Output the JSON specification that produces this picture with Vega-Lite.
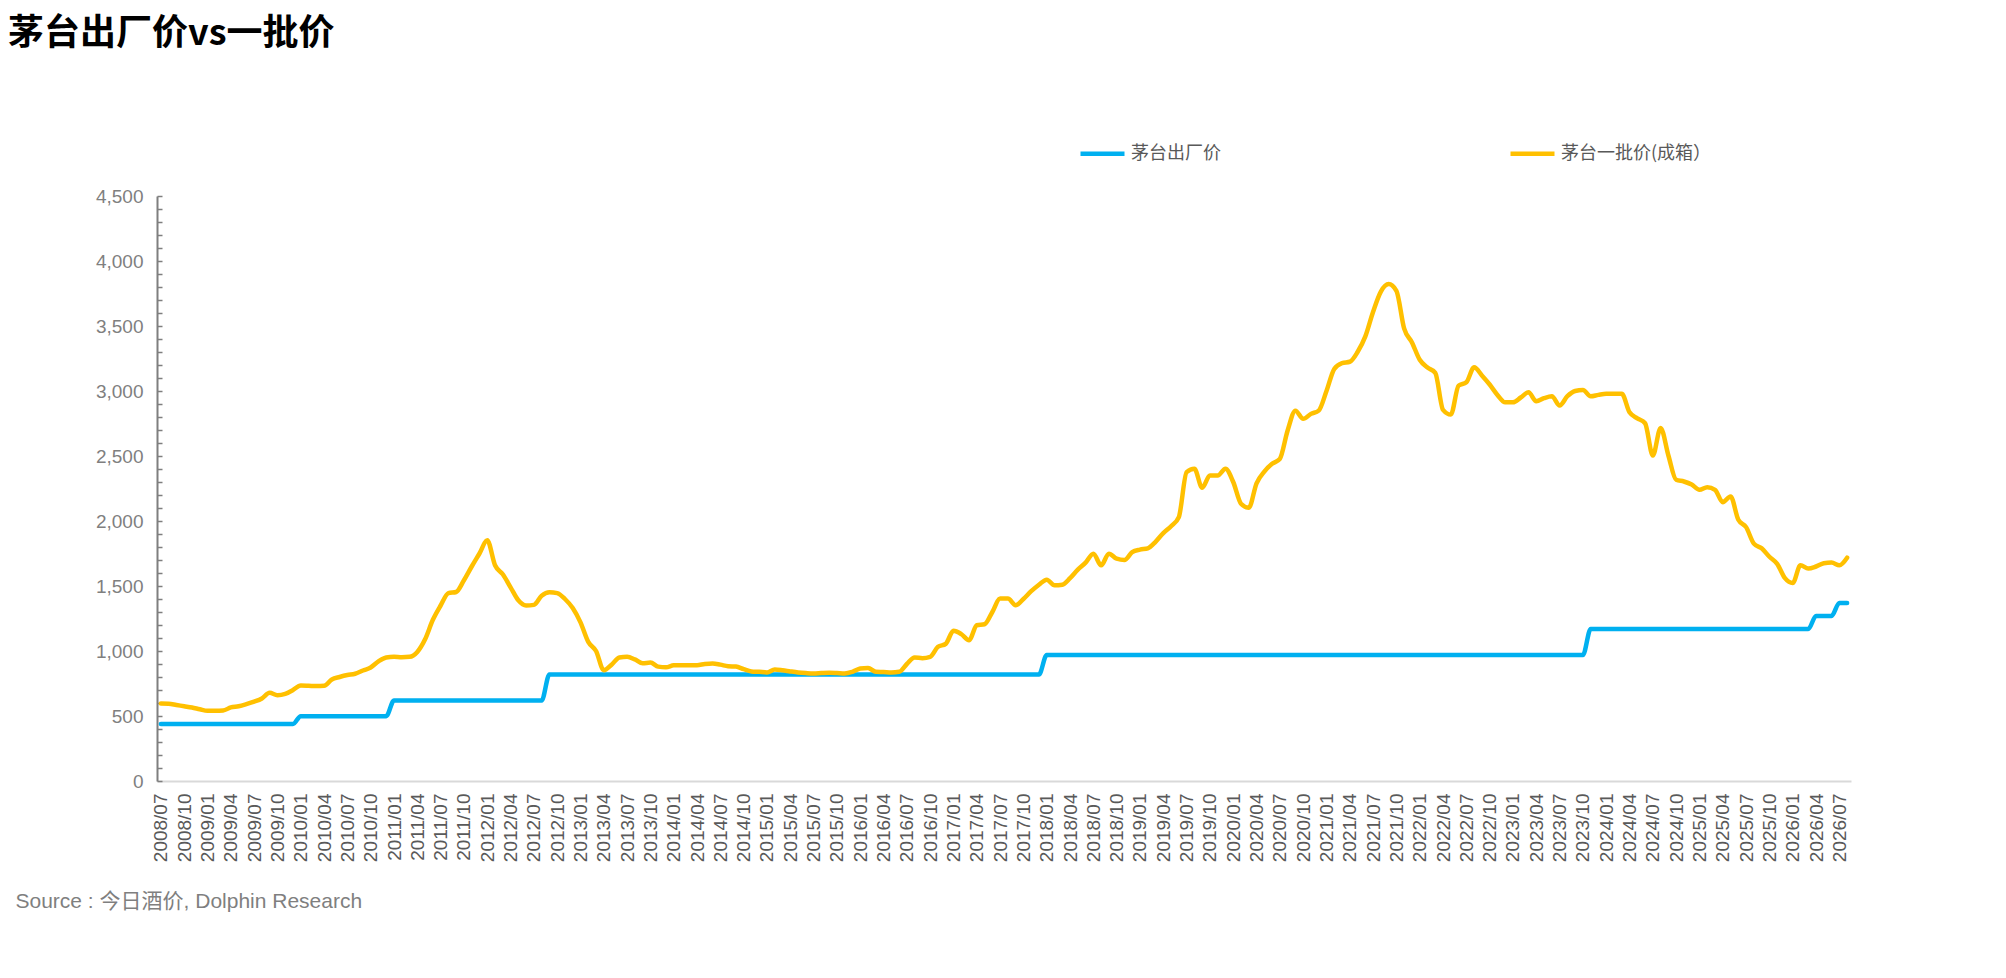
{
"$schema": "https://vega.github.io/schema/vega-lite/v6.json",
"width": 1694,
"height": 585,
"autosize": {"type": "none"},
"padding": {"left": 157, "top": 196, "right": 155, "bottom": 197},
"background": "white",
"config": {"view": {"stroke": null}, "font": "Liberation Sans, Noto Sans CJK SC"},
"title": {"text": "茅台出厂价vs一批价", "anchor": "start", "frame": "group", "dx": -149, "offset": 76, "fontSize": 36, "fontWeight": "bold", "color": "#000000", "font": "Noto Sans CJK SC"},
"data": {"values": [
{"month":"2008/07","factory":439,"wholesale":597},
{"month":"2008/08","factory":439,"wholesale":595},
{"month":"2008/09","factory":439,"wholesale":585},
{"month":"2008/10","factory":439,"wholesale":575},
{"month":"2008/11","factory":439,"wholesale":565},
{"month":"2008/12","factory":439,"wholesale":552},
{"month":"2009/01","factory":439,"wholesale":540},
{"month":"2009/02","factory":439,"wholesale":540},
{"month":"2009/03","factory":439,"wholesale":542},
{"month":"2009/04","factory":439,"wholesale":566},
{"month":"2009/05","factory":439,"wholesale":575},
{"month":"2009/06","factory":439,"wholesale":591},
{"month":"2009/07","factory":439,"wholesale":610},
{"month":"2009/08","factory":439,"wholesale":635},
{"month":"2009/09","factory":439,"wholesale":678},
{"month":"2009/10","factory":439,"wholesale":660},
{"month":"2009/11","factory":439,"wholesale":670},
{"month":"2009/12","factory":439,"wholesale":700},
{"month":"2010/01","factory":499,"wholesale":735},
{"month":"2010/02","factory":499,"wholesale":733},
{"month":"2010/03","factory":499,"wholesale":730},
{"month":"2010/04","factory":499,"wholesale":732},
{"month":"2010/05","factory":499,"wholesale":781},
{"month":"2010/06","factory":499,"wholesale":800},
{"month":"2010/07","factory":499,"wholesale":815},
{"month":"2010/08","factory":499,"wholesale":825},
{"month":"2010/09","factory":499,"wholesale":850},
{"month":"2010/10","factory":499,"wholesale":873},
{"month":"2010/11","factory":499,"wholesale":920},
{"month":"2010/12","factory":499,"wholesale":950},
{"month":"2011/01","factory":619,"wholesale":955},
{"month":"2011/02","factory":619,"wholesale":952},
{"month":"2011/03","factory":619,"wholesale":955},
{"month":"2011/04","factory":619,"wholesale":993},
{"month":"2011/05","factory":619,"wholesale":1090},
{"month":"2011/06","factory":619,"wholesale":1240},
{"month":"2011/07","factory":619,"wholesale":1350},
{"month":"2011/08","factory":619,"wholesale":1445},
{"month":"2011/09","factory":619,"wholesale":1454},
{"month":"2011/10","factory":619,"wholesale":1544},
{"month":"2011/11","factory":619,"wholesale":1650},
{"month":"2011/12","factory":619,"wholesale":1750},
{"month":"2012/01","factory":619,"wholesale":1851},
{"month":"2012/02","factory":619,"wholesale":1660},
{"month":"2012/03","factory":619,"wholesale":1590},
{"month":"2012/04","factory":619,"wholesale":1490},
{"month":"2012/05","factory":619,"wholesale":1390},
{"month":"2012/06","factory":619,"wholesale":1350},
{"month":"2012/07","factory":619,"wholesale":1355},
{"month":"2012/08","factory":619,"wholesale":1425},
{"month":"2012/09","factory":819,"wholesale":1452},
{"month":"2012/10","factory":819,"wholesale":1445},
{"month":"2012/11","factory":819,"wholesale":1400},
{"month":"2012/12","factory":819,"wholesale":1330},
{"month":"2013/01","factory":819,"wholesale":1220},
{"month":"2013/02","factory":819,"wholesale":1070},
{"month":"2013/03","factory":819,"wholesale":1000},
{"month":"2013/04","factory":819,"wholesale":852},
{"month":"2013/05","factory":819,"wholesale":895},
{"month":"2013/06","factory":819,"wholesale":950},
{"month":"2013/07","factory":819,"wholesale":955},
{"month":"2013/08","factory":819,"wholesale":935},
{"month":"2013/09","factory":819,"wholesale":905},
{"month":"2013/10","factory":819,"wholesale":911},
{"month":"2013/11","factory":819,"wholesale":880},
{"month":"2013/12","factory":819,"wholesale":875},
{"month":"2014/01","factory":819,"wholesale":890},
{"month":"2014/02","factory":819,"wholesale":891},
{"month":"2014/03","factory":819,"wholesale":891},
{"month":"2014/04","factory":819,"wholesale":891},
{"month":"2014/05","factory":819,"wholesale":900},
{"month":"2014/06","factory":819,"wholesale":904},
{"month":"2014/07","factory":819,"wholesale":895},
{"month":"2014/08","factory":819,"wholesale":883},
{"month":"2014/09","factory":819,"wholesale":880},
{"month":"2014/10","factory":819,"wholesale":860},
{"month":"2014/11","factory":819,"wholesale":843},
{"month":"2014/12","factory":819,"wholesale":840},
{"month":"2015/01","factory":819,"wholesale":835},
{"month":"2015/02","factory":819,"wholesale":858},
{"month":"2015/03","factory":819,"wholesale":852},
{"month":"2015/04","factory":819,"wholesale":843},
{"month":"2015/05","factory":819,"wholesale":835},
{"month":"2015/06","factory":819,"wholesale":830},
{"month":"2015/07","factory":819,"wholesale":827},
{"month":"2015/08","factory":819,"wholesale":830},
{"month":"2015/09","factory":819,"wholesale":832},
{"month":"2015/10","factory":819,"wholesale":830},
{"month":"2015/11","factory":819,"wholesale":827},
{"month":"2015/12","factory":819,"wholesale":840},
{"month":"2016/01","factory":819,"wholesale":865},
{"month":"2016/02","factory":819,"wholesale":870},
{"month":"2016/03","factory":819,"wholesale":840},
{"month":"2016/04","factory":819,"wholesale":838},
{"month":"2016/05","factory":819,"wholesale":835},
{"month":"2016/06","factory":819,"wholesale":840},
{"month":"2016/07","factory":819,"wholesale":900},
{"month":"2016/08","factory":819,"wholesale":950},
{"month":"2016/09","factory":819,"wholesale":945},
{"month":"2016/10","factory":819,"wholesale":955},
{"month":"2016/11","factory":819,"wholesale":1032},
{"month":"2016/12","factory":819,"wholesale":1055},
{"month":"2017/01","factory":819,"wholesale":1155},
{"month":"2017/02","factory":819,"wholesale":1130},
{"month":"2017/03","factory":819,"wholesale":1083},
{"month":"2017/04","factory":819,"wholesale":1198},
{"month":"2017/05","factory":819,"wholesale":1206},
{"month":"2017/06","factory":819,"wholesale":1300},
{"month":"2017/07","factory":819,"wholesale":1403},
{"month":"2017/08","factory":819,"wholesale":1403},
{"month":"2017/09","factory":819,"wholesale":1352},
{"month":"2017/10","factory":819,"wholesale":1400},
{"month":"2017/11","factory":819,"wholesale":1460},
{"month":"2017/12","factory":819,"wholesale":1510},
{"month":"2018/01","factory":969,"wholesale":1549},
{"month":"2018/02","factory":969,"wholesale":1505},
{"month":"2018/03","factory":969,"wholesale":1510},
{"month":"2018/04","factory":969,"wholesale":1560},
{"month":"2018/05","factory":969,"wholesale":1626},
{"month":"2018/06","factory":969,"wholesale":1680},
{"month":"2018/07","factory":969,"wholesale":1749},
{"month":"2018/08","factory":969,"wholesale":1659},
{"month":"2018/09","factory":969,"wholesale":1749},
{"month":"2018/10","factory":969,"wholesale":1710},
{"month":"2018/11","factory":969,"wholesale":1700},
{"month":"2018/12","factory":969,"wholesale":1760},
{"month":"2019/01","factory":969,"wholesale":1780},
{"month":"2019/02","factory":969,"wholesale":1790},
{"month":"2019/03","factory":969,"wholesale":1840},
{"month":"2019/04","factory":969,"wholesale":1907},
{"month":"2019/05","factory":969,"wholesale":1960},
{"month":"2019/06","factory":969,"wholesale":2030},
{"month":"2019/07","factory":969,"wholesale":2376},
{"month":"2019/08","factory":969,"wholesale":2402},
{"month":"2019/09","factory":969,"wholesale":2256},
{"month":"2019/10","factory":969,"wholesale":2350},
{"month":"2019/11","factory":969,"wholesale":2350},
{"month":"2019/12","factory":969,"wholesale":2402},
{"month":"2020/01","factory":969,"wholesale":2300},
{"month":"2020/02","factory":969,"wholesale":2133},
{"month":"2020/03","factory":969,"wholesale":2102},
{"month":"2020/04","factory":969,"wholesale":2290},
{"month":"2020/05","factory":969,"wholesale":2380},
{"month":"2020/06","factory":969,"wholesale":2440},
{"month":"2020/07","factory":969,"wholesale":2478},
{"month":"2020/08","factory":969,"wholesale":2696},
{"month":"2020/09","factory":969,"wholesale":2849},
{"month":"2020/10","factory":969,"wholesale":2786},
{"month":"2020/11","factory":969,"wholesale":2824},
{"month":"2020/12","factory":969,"wholesale":2849},
{"month":"2021/01","factory":969,"wholesale":3000},
{"month":"2021/02","factory":969,"wholesale":3170},
{"month":"2021/03","factory":969,"wholesale":3215},
{"month":"2021/04","factory":969,"wholesale":3225},
{"month":"2021/05","factory":969,"wholesale":3300},
{"month":"2021/06","factory":969,"wholesale":3420},
{"month":"2021/07","factory":969,"wholesale":3610},
{"month":"2021/08","factory":969,"wholesale":3765},
{"month":"2021/09","factory":969,"wholesale":3823},
{"month":"2021/10","factory":969,"wholesale":3771},
{"month":"2021/11","factory":969,"wholesale":3480},
{"month":"2021/12","factory":969,"wholesale":3374},
{"month":"2022/01","factory":969,"wholesale":3240},
{"month":"2022/02","factory":969,"wholesale":3180},
{"month":"2022/03","factory":969,"wholesale":3140},
{"month":"2022/04","factory":969,"wholesale":2855},
{"month":"2022/05","factory":969,"wholesale":2819},
{"month":"2022/06","factory":969,"wholesale":3041},
{"month":"2022/07","factory":969,"wholesale":3067},
{"month":"2022/08","factory":969,"wholesale":3182},
{"month":"2022/09","factory":969,"wholesale":3120},
{"month":"2022/10","factory":969,"wholesale":3050},
{"month":"2022/11","factory":969,"wholesale":2970},
{"month":"2022/12","factory":969,"wholesale":2913},
{"month":"2023/01","factory":969,"wholesale":2913},
{"month":"2023/02","factory":969,"wholesale":2950},
{"month":"2023/03","factory":969,"wholesale":2990},
{"month":"2023/04","factory":969,"wholesale":2921},
{"month":"2023/05","factory":969,"wholesale":2945},
{"month":"2023/06","factory":969,"wholesale":2959},
{"month":"2023/07","factory":969,"wholesale":2888},
{"month":"2023/08","factory":969,"wholesale":2960},
{"month":"2023/09","factory":969,"wholesale":3000},
{"month":"2023/10","factory":969,"wholesale":3008},
{"month":"2023/11","factory":1169,"wholesale":2959},
{"month":"2023/12","factory":1169,"wholesale":2970},
{"month":"2024/01","factory":1169,"wholesale":2978},
{"month":"2024/02","factory":1169,"wholesale":2978},
{"month":"2024/03","factory":1169,"wholesale":2978},
{"month":"2024/04","factory":1169,"wholesale":2836},
{"month":"2024/05","factory":1169,"wholesale":2790},
{"month":"2024/06","factory":1169,"wholesale":2752},
{"month":"2024/07","factory":1169,"wholesale":2504},
{"month":"2024/08","factory":1169,"wholesale":2716},
{"month":"2024/09","factory":1169,"wholesale":2504},
{"month":"2024/10","factory":1169,"wholesale":2317},
{"month":"2024/11","factory":1169,"wholesale":2304},
{"month":"2024/12","factory":1169,"wholesale":2280},
{"month":"2025/01","factory":1169,"wholesale":2240},
{"month":"2025/02","factory":1169,"wholesale":2260},
{"month":"2025/03","factory":1169,"wholesale":2240},
{"month":"2025/04","factory":1169,"wholesale":2145},
{"month":"2025/05","factory":1169,"wholesale":2189},
{"month":"2025/06","factory":1169,"wholesale":2010},
{"month":"2025/07","factory":1169,"wholesale":1953},
{"month":"2025/08","factory":1169,"wholesale":1826},
{"month":"2025/09","factory":1169,"wholesale":1790},
{"month":"2025/10","factory":1169,"wholesale":1725},
{"month":"2025/11","factory":1169,"wholesale":1670},
{"month":"2025/12","factory":1169,"wholesale":1560},
{"month":"2026/01","factory":1169,"wholesale":1523},
{"month":"2026/02","factory":1169,"wholesale":1660},
{"month":"2026/03","factory":1169,"wholesale":1634},
{"month":"2026/04","factory":1270,"wholesale":1650},
{"month":"2026/05","factory":1270,"wholesale":1675},
{"month":"2026/06","factory":1270,"wholesale":1680},
{"month":"2026/07","factory":1370,"wholesale":1660},
{"month":"2026/08","factory":1370,"wholesale":1718}
]},
"transform": [{"fold": ["factory", "wholesale"], "as": ["series", "price"]}],
"mark": {"type": "line", "interpolate": "monotone", "strokeWidth": 4.5, "strokeCap": "round", "strokeJoin": "round"},
"encoding": {
"x": {"field": "month", "type": "ordinal", "scale": {"type": "point", "padding": 0.5},
"axis": {"title": "Source : 今日酒价, Dolphin Research", "titleX": -142, "titleY": 120, "titleAlign": "left", "titleAnchor": "start", "titleBaseline": "middle", "titleFontSize": 21, "titleFontWeight": "normal", "titleColor": "#7f7f7f", "titleFont": "Liberation Sans, Noto Sans CJK SC",
"labelAngle": 270, "labelFontSize": 19, "labelColor": "#595959", "labelPadding": 12, "labelOverlap": false, "labelFont": "Liberation Sans",
"labelExpr": "indexof(['01','04','07','10'], substring(datum.label, 5, 7)) >= 0 ? datum.label : ''",
"ticks": false, "domainColor": "#d9d9d9", "domainWidth": 2, "grid": false}},
"y": {"field": "price", "type": "quantitative", "scale": {"domain": [0, 4500], "nice": false},
"axis": {"title": null, "grid": false, "values": [0,100,200,300,400,500,600,700,800,900,1000,1100,1200,1300,1400,1500,1600,1700,1800,1900,2000,2100,2200,2300,2400,2500,2600,2700,2800,2900,3000,3100,3200,3300,3400,3500,3600,3700,3800,3900,4000,4100,4200,4300,4400,4500],
"labelExpr": "datum.value % 500 == 0 ? format(datum.value, ',') : ''",
"tickSize": -5, "tickWidth": 1.5, "tickColor": "#7f7f7f", "domainColor": "#7f7f7f", "domainWidth": 2,
"labelPadding": 19, "labelFontSize": 19, "labelColor": "#7f7f7f", "labelOverlap": false, "labelFont": "Liberation Sans"}},
"color": {"field": "series", "type": "nominal", "scale": {"domain": ["factory", "wholesale"], "range": ["#00B0F0", "#FFC000"]},
"legend": {"orient": "none", "legendX": 921, "legendY": -67, "direction": "horizontal", "columns": 2, "columnPadding": 280, "title": null,
"symbolType": "stroke", "symbolSize": 1936, "symbolStrokeWidth": 4.5, "labelFontSize": 18, "labelColor": "#595959", "labelFont": "Noto Sans CJK SC", "labelOffset": 4, "labelLimit": 400,
"labelExpr": "datum.label == 'factory' ? '茅台出厂价' : '茅台一批价(成箱）'"}}
}
}
